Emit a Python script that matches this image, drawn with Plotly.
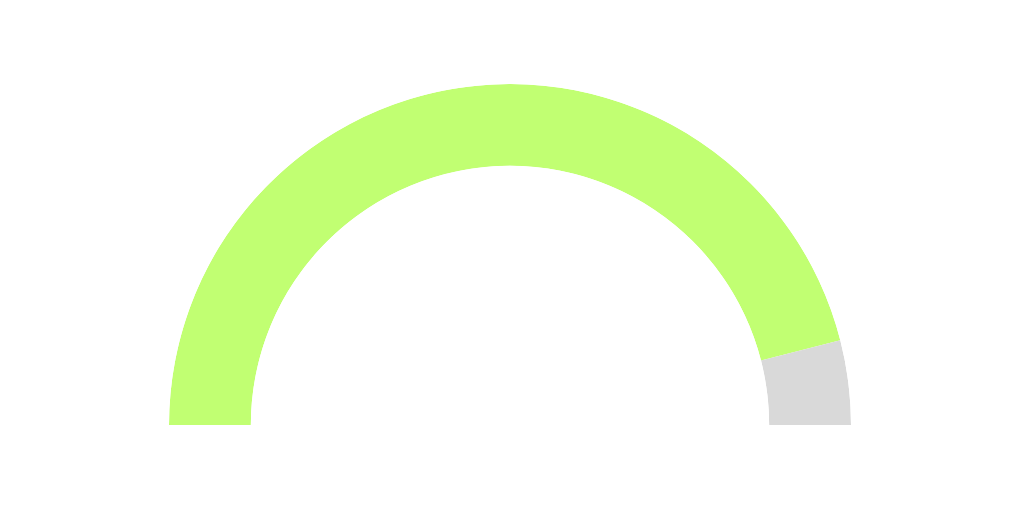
import plotly.graph_objects as go

# gauge data
labels = ['Progress', 'Remaining']
values = [92, 8]
colors = ['#c1ff72', '#d9d9d9']
max_value = sum(values)

# convert values to angles along the half circle (0..180 deg)
widths = [v / max_value * 180 for v in values]
centers = []
start = 0
for w in widths:
    centers.append(start + w / 2)
    start += w

fig = go.Figure()
fig.add_trace(go.Barpolar(
    r=[1] * len(values),
    theta=centers,
    width=widths,
    marker=dict(color=colors, line=dict(width=0)),
    text=labels,
    hoverinfo='text',
    showlegend=False,
))

fig.update_layout(
    width=1024,
    height=512,
    margin=dict(l=0, r=0, t=0, b=0),
    paper_bgcolor='white',
    polar=dict(
        domain=dict(x=[161 / 1024, 843 / 1024], y=[95 / 512, 436 / 512]),
        sector=[0, 180],
        hole=0.76,
        bgcolor='white',
        bargap=0,
        radialaxis=dict(range=[0, 1], visible=False, showgrid=False),
        angularaxis=dict(direction='clockwise', rotation=180, visible=False, showgrid=False),
    ),
)

fig.write_html("out.html")
